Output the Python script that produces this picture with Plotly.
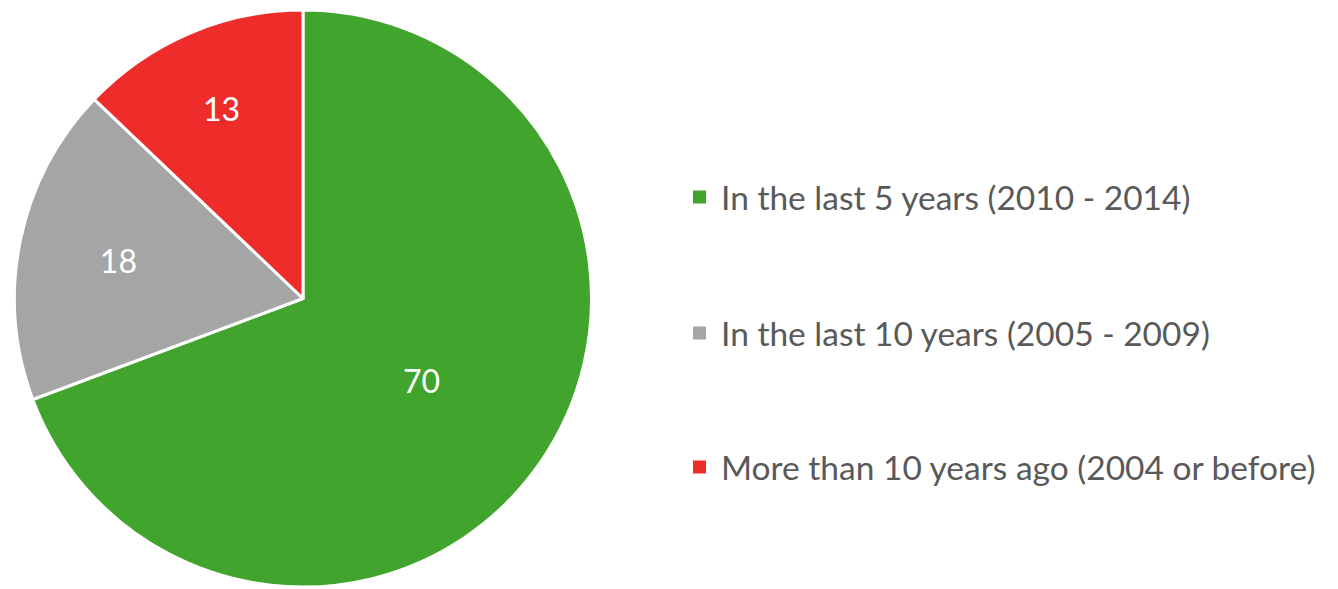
import plotly.graph_objects as go

labels = ["In the last 5 years (2010 - 2014)",
          "In the last 10 years (2005 - 2009)",
          "More than 10 years ago (2004 or before)"]
values = [70, 18, 13]
colors = ["#41A42D", "#A5A5A5", "#EE2D2A"]

W, H = 1338, 589

fig = go.Figure()
fig.add_trace(go.Pie(
    labels=labels, values=values, sort=False, direction="clockwise", rotation=0,
    marker=dict(colors=colors, line=dict(color="white", width=3)),
    textinfo="value", textposition="inside", insidetextorientation="horizontal",
    textfont=dict(color="white", size=32, family="Lato"),
    domain=dict(x=[14 / W, 592 / W], y=[1 - 587 / H, 1 - 10 / H]),
    showlegend=False, hoverinfo="label+value",
))

legend_y = [197, 333, 467]
for lab, col, yc in zip(labels, colors, legend_y):
    fig.add_shape(type="rect", xref="paper", yref="paper",
                  x0=693 / W, x1=706 / W, y0=1 - (yc + 6.5) / H, y1=1 - (yc - 6.5) / H,
                  fillcolor=col, line=dict(width=0))
    fig.add_annotation(x=719 / W, y=1 - yc / H, xref="paper", yref="paper",
                       text=lab, showarrow=False, xanchor="left", yanchor="middle",
                       font=dict(size=33.5, color="#595959", family="Lato"))

fig.update_layout(width=W, height=H, margin=dict(l=0, r=0, t=0, b=0),
                  paper_bgcolor="white", plot_bgcolor="white")
fig.write_html("out.html", config={"displayModeBar": False},
               post_script="document.body.style.margin='0px';document.body.style.overflow='hidden';")
